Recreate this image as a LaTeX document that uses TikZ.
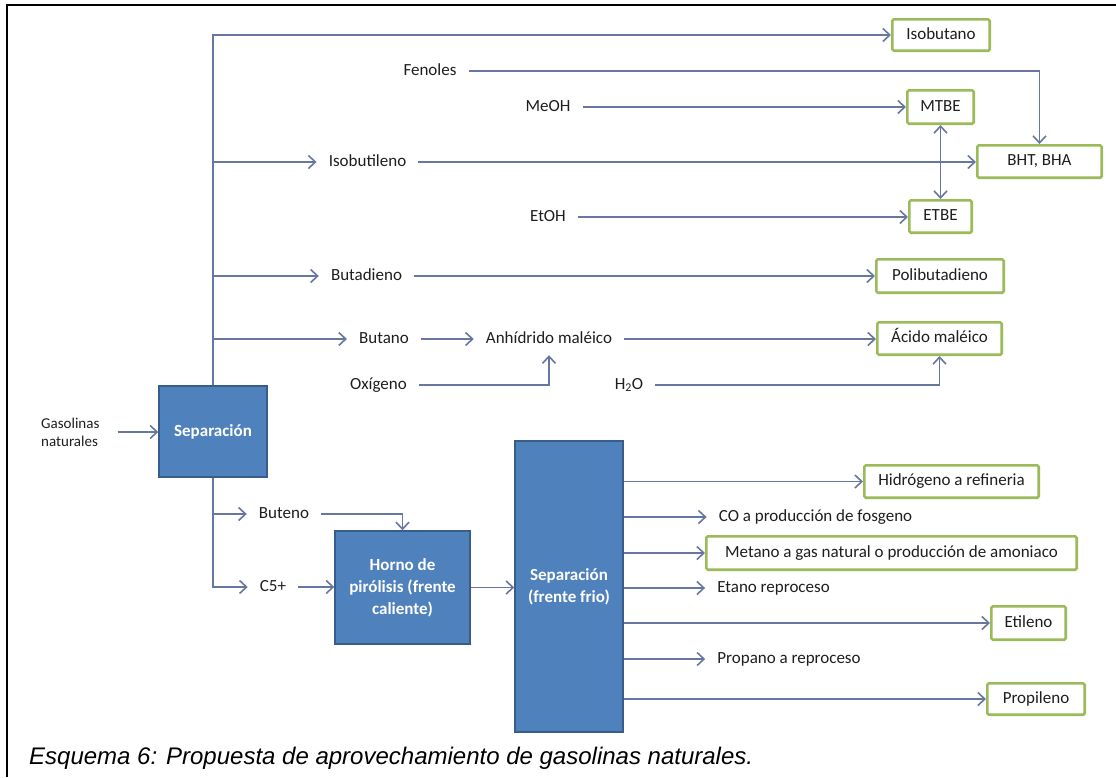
\documentclass[tikz,border=0pt]{standalone}
\usepackage{fontspec}
\setmainfont{Carlito}
\newfontfamily\capfont{Liberation Sans}
\usetikzlibrary{arrows.meta}
\definecolor{boxblue}{HTML}{4F81BD}
\definecolor{boxblueedge}{HTML}{385D8A}
\definecolor{prodgreen}{HTML}{9BBB59}
\definecolor{flow}{RGB}{104,118,162}
\definecolor{ink}{HTML}{1E1E1E}

\begin{document}
\begin{tikzpicture}[x=1pt,y=-1pt,
  every node/.style={font=\fontsize{17}{21}\selectfont, text=ink},
  lbl/.style={inner xsep=12pt, inner ysep=2pt, text height=11pt, text depth=3pt},
  prod/.style={draw=prodgreen, line width=2.6pt, fill=white, rounded corners=1.5pt,
               inner sep=0pt, text height=11pt, text depth=3pt},
  unit/.style={draw=boxblueedge, line width=1.4pt, fill=boxblue, text=white,
               font=\fontsize{17}{22}\selectfont\bfseries, align=center, inner sep=0pt},
  barb/.tip={Straight Barb[length=7pt,width=13pt]},
  conn/.style={draw=flow, line width=1.6pt, -barb},
]
\useasboundingbox (0,0) rectangle (1116,777);

% page frame
\draw[black, line width=2pt, line join=miter] (7,777) -- (7,5) -- (1116,5);

% process units
\node[unit, minimum width=108pt, minimum height=91pt] (sep1) at (213,431.5) {Separación};
\node[unit, minimum width=135pt, minimum height=113pt] (horno) at (402.5,587.5) {Horno de\\pirólisis (frente\\caliente)};
\node[unit, minimum width=108pt, minimum height=291pt] (sep2) at (569,586.5) {Separación\\(frente frio)};

% final products
\node[prod, minimum width=97.4pt,  minimum height=31.4pt] (isob)   at (941,35)      {Isobutano};
\node[prod, minimum width=66.4pt,  minimum height=33.4pt] (mtbe)   at (940.5,107)   {MTBE};
\node[prod, minimum width=124.4pt, minimum height=32.4pt] (bht)    at (1039.5,161.5){BHT, BHA};
\node[prod, minimum width=62.4pt,  minimum height=32.4pt] (etbe)   at (940.5,216.5) {ETBE};
\node[prod, minimum width=127.4pt, minimum height=33.4pt] (polib)  at (940,276)     {Polibutadieno};
\node[prod, minimum width=124.4pt, minimum height=32.4pt] (acido)  at (939.5,338.5) {Ácido maléico};
\node[prod, minimum width=174.4pt, minimum height=32.4pt] (hidro)  at (951.5,481.5) {Hidrógeno a refineria};
\node[prod, minimum width=370.4pt, minimum height=33.4pt] (metano) at (891.5,553)   {Metano a gas natural o producción de amoniaco};
\node[prod, minimum width=74.4pt,  minimum height=33.4pt] (etil)   at (1028.5,623)  {Etileno};
\node[prod, minimum width=97.4pt,  minimum height=31.4pt] (propil) at (1036,699)    {Propileno};

% intermediate streams and reagents
\node[lbl] (fen)     at (430,71)    {Fenoles};
\node[lbl] (meoh)    at (548,107)   {MeOH};
\node[lbl] (isobl)   at (367.5,162) {Isobutileno};
\node[lbl] (etoh)    at (548,217)   {EtOH};
\node[lbl] (butad)   at (366.5,276) {Butadieno};
\node[lbl] (butano)  at (384,339)   {Butano};
\node[lbl] (anh)     at (549,339)   {Anhídrido maléico};
\node[lbl] (oxi)     at (378.5,385) {Oxígeno};
\node[lbl] (h2o)     at (629,385)   {H\textsubscript{2}O};
\node[lbl] (buteno)  at (284,514)   {Buteno};
\node[lbl] (c5)      at (273,587)   {C5+};
\node[lbl] (co)      at (815.5,517) {CO a producción de fosgeno};
\node[lbl] (etano)   at (773.5,588) {Etano reproceso};
\node[lbl] (propano) at (789,659)   {Propano a reproceso};
\node[align=left, anchor=west, inner sep=0pt, font=\fontsize{15}{18}\selectfont] (gas) at (41,432) {Gasolinas\\naturales};

% caption
\node[anchor=base west, inner sep=0pt, text=black, font=\capfont\itshape\fontsize{24}{28}\selectfont] (cap) at (29,764)
  {Esquema 6: Propuesta de aprovechamiento de gasolinas naturales.};

% feed
\draw[conn, shorten <=18pt] (gas.east) -- (gas.east -| sep1.west);

% upper branches of the first separation
\draw[conn] (sep1.north) |- (isob.west);
\draw[conn] (sep1.north |- isobl) -- (isobl.west);
\draw[conn] (sep1.north |- butad) -- (butad.west);
\draw[conn] (sep1.north |- butano) -- (butano.west);

\draw[conn] (fen.east) -| (bht.north);
\draw[conn] (meoh.east) -- (meoh.east -| mtbe.west);
\draw[conn] (isobl.east) -- (isobl.east -| bht.west);
\draw[conn] (etoh.east) -- (etoh.east -| etbe.west);
\draw[conn, barb-barb] (mtbe.south) -- (etbe.north);
\draw[conn] (butad.east) -- (butad.east -| polib.west);
\draw[conn] (butano.east) -- (anh.west);
\draw[conn] (anh.east) -- (anh.east -| acido.west);
\draw[conn] (oxi.east) -| ([yshift=-7pt]anh.south);
\draw[conn] (h2o.east) -| (acido.south);

% lower branches: pyrolysis route
\draw[conn] (sep1.south) |- (c5.west);
\draw[conn] (sep1.south |- buteno) -- (buteno.west);
\draw[conn] (buteno.east) -| (horno.north);
\draw[conn] (c5.east) -- (c5.east -| horno.west);
\draw[conn] (horno.east) -- (horno.east -| sep2.west);

% cold-end separation products
\draw[conn] (sep2.east |- hidro) -- (hidro.west);
\draw[conn] (sep2.east |- co) -- (co.west);
\draw[conn] (sep2.east |- metano) -- (metano.west);
\draw[conn] (sep2.east |- etano) -- (etano.west);
\draw[conn] (sep2.east |- etil) -- (etil.west);
\draw[conn] (sep2.east |- propano) -- (propano.west);
\draw[conn] (sep2.east |- propil) -- (propil.west);
\end{tikzpicture}
\end{document}
